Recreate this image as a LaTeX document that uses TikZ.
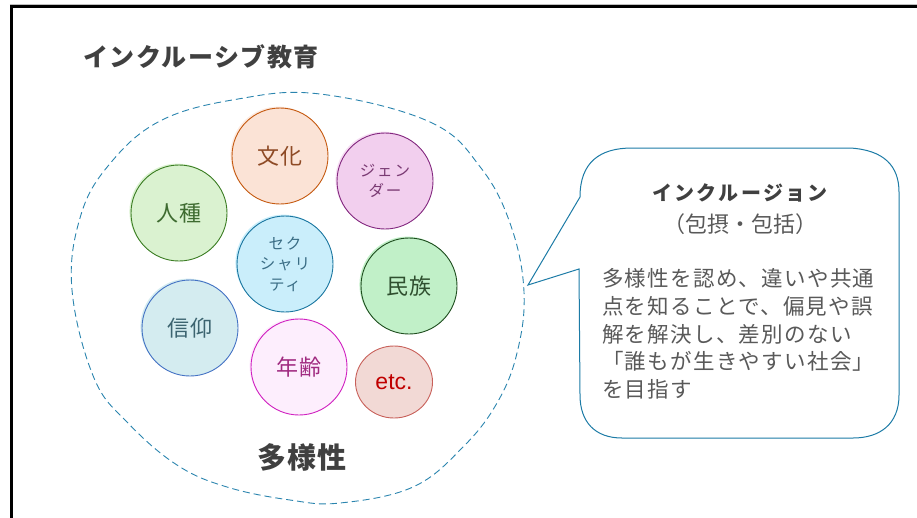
\documentclass[tikz,border=0pt]{standalone}
\usepackage{fontspec}
\usetikzlibrary{shapes.geometric}
\newfontfamily\jp{Noto Sans CJK JP}
\newfontfamily\lat{Liberation Sans}
\newcommand\lsp[1]{\addfontfeature{LetterSpace=#1}}
\definecolor{dashc}{HTML}{2A84AE}
\definecolor{bubc}{HTML}{1C7BA6}
\definecolor{darkt}{HTML}{404040}
\definecolor{bodyt}{HTML}{595959}
\definecolor{bunkaF}{HTML}{FBE3D6}\definecolor{bunkaD}{HTML}{C55A11}\definecolor{bunkaT}{HTML}{8E4A25}
\definecolor{genF}{HTML}{F2CFEE}\definecolor{genD}{HTML}{83287F}\definecolor{genT}{HTML}{7A3A73}
\definecolor{jinF}{HTML}{DAF2D0}\definecolor{jinD}{HTML}{3B7D23}\definecolor{jinT}{HTML}{3E6B30}
\definecolor{sexF}{HTML}{CAEEFB}\definecolor{sexD}{HTML}{1A76A0}\definecolor{sexT}{HTML}{3A6D85}
\definecolor{minF}{HTML}{C1F0C8}\definecolor{minD}{HTML}{1E4D1E}\definecolor{minT}{HTML}{2F4F2F}
\definecolor{shinF}{HTML}{D4ECF0}\definecolor{shinD}{HTML}{4472C4}\definecolor{shinT}{HTML}{3C6470}
\definecolor{nenF}{HTML}{FDEEFD}\definecolor{nenD}{HTML}{D020C0}\definecolor{nenT}{HTML}{A02A80}
\definecolor{etcF}{HTML}{F2D9D5}\definecolor{etcD}{HTML}{C8605A}\definecolor{etcT}{HTML}{C00000}
\tikzset{
  blob/.style={circle, inner sep=0pt, minimum size=96pt, line width=0.9pt, align=center},
  skfill/.style={preaction={fill=#1, transform canvas={shift={(-1.6pt,1.4pt)}}}},
  bigt/.style={font={\jp\fontsize{22pt}{24pt}\selectfont\lsp{4}}},
  smallt/.style={font={\jp\fontsize{15.5pt}{20.5pt}\selectfont\lsp{12}}},
}
\begin{document}
\begin{tikzpicture}[x=1pt,y=-1pt]
\useasboundingbox (0,0) rectangle (917,517);
\clip (0,0) rectangle (917,517);
% frame
\draw[black!25, line width=1pt] (9.5,4) -- (930,4);
\draw[black, line width=2.6pt] (11.5,6.5) rectangle (940,540);
% title
\node[font={\jp\bfseries\fontsize{25pt}{28pt}\selectfont\lsp{6}}, text=darkt] (title) at (201,57) {インクルーシブ教育};
% dashed diversity blob
\draw[dashc, line width=0.9pt, dash pattern=on 7pt off 4pt] plot[smooth cycle, tension=0.65] coordinates {
 (320,94) (430,122) (481,168) (511,226) (524,292) (517,353) (497,403) (463,447) (413,487) (340,503) (290,500) (227,487) (177,465) (128,423) (94,378) (72,290) (80,218) (108,166) (160,121) (238,99)};
% circles
\node[blob, bigt, skfill=bunkaF!70, fill=bunkaF, draw=bunkaD, text=bunkaT] (bunka) at (280,156) {文化};
\node[blob, smallt, skfill=genF!70, fill=genF, draw=genD, text=genT] (gender) at (385,181) {ジェン\\ダー};
\node[blob, bigt, skfill=jinF, fill=jinF, draw=jinD, text=jinT] (jinshu) at (179,213) {人種};
\node[blob, smallt, skfill=sexF, fill=sexF, draw=sexD, text=sexT] (sexuality) at (285,264) {セク\\シャリ\\ティ};
\node[blob, bigt, skfill=minF, fill=minF, draw=minD, text=minT] (minzoku) at (409,286) {民族};
\node[blob, bigt, skfill=shinF, fill=shinF, draw=shinD, text=shinT] (shinko) at (190,328) {信仰};
\node[blob, bigt, skfill=nenF, fill=nenF, draw=nenD, text=nenT] (nenrei) at (299,367) {年齢};
\node[ellipse, inner sep=0pt, minimum width=77pt, minimum height=72pt, line width=0.9pt, fill=etcF, draw=etcD, text=etcT, font={\lat\fontsize{23pt}{26pt}\selectfont}] (etc) at (394,382) {etc.};
% diversity label
\node[font={\jp\bfseries\fontsize{29pt}{32pt}\selectfont\lsp{3}}, text=darkt] (tayousei) at (302,457) {多様性};
% speech bubble
\coordinate (tip) at (528,285);
\draw[bubc, line width=1pt, fill=white] (580,197) .. controls (580,162) and (600,148) .. (632,148) -- (850,148) .. controls (884,150) and (899,166) .. (899,192) -- (899,395) .. controls (899,424) and (880,438) .. (853,438) -- (622,438) .. controls (595,438) and (580,422) .. (580,395) -- (579,269) -- (tip) -- cycle;
\node[font={\jp\bfseries\fontsize{20pt}{22pt}\selectfont\lsp{12}}, text=darkt] (incl) at (740,193) {インクルージョン};
\node[font={\jp\fontsize{22pt}{24pt}\selectfont}, text=bodyt] (hosetsu) at (740,224) {（包摂・包括）};
\node[anchor=west, inner sep=0pt, align=left, font={\jp\fontsize{21.5pt}{27.8pt}\selectfont\lsp{6}}, text=bodyt] (body) at (602,334)
 {多様性を認め、違いや共通\\点を知ることで、偏見や誤\\解を解決し、差別のない\\「誰もが生きやすい社会」\\を目指す};
\end{tikzpicture}
\end{document}
